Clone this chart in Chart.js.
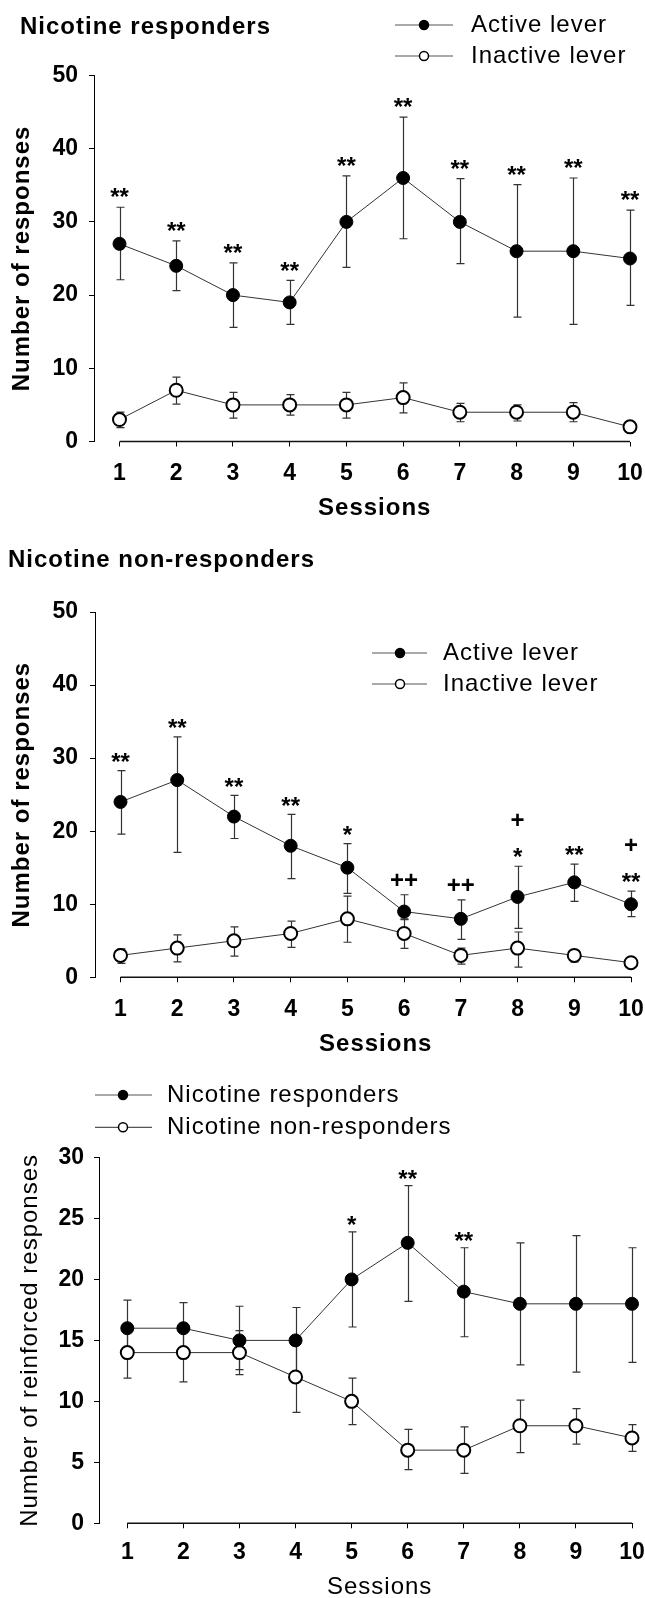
<!DOCTYPE html>
<html><head><meta charset="utf-8">
<script src="https://cdn.jsdelivr.net/npm/chart.js@4.4.1/dist/chart.umd.min.js"></script>
<style>
html,body{margin:0;padding:0;background:#fff;}
#wrap{position:relative;width:645px;height:1598px;overflow:hidden;background:#fff}
canvas{position:absolute;left:0}
</style></head><body>
<div id="wrap">
<canvas id="c1" width="645" height="530" style="top:0px"></canvas>
<canvas id="c2" width="645" height="530" style="top:530px"></canvas>
<canvas id="c3" width="645" height="538" style="top:1060px"></canvas>
</div>
<script>
// ---------- DATA ----------
const sessions = [1,2,3,4,5,6,7,8,9,10];

// Panel 1: Nicotine responders
const respActive     = [27, 24, 20, 19, 30, 36, 30, 26, 26, 25];
const respActiveHi   = [32, 27.4, 24.4, 22, 36.3, 44.3, 35.9, 35.1, 36, 31.6];
const respActiveLo   = [22.1, 20.6, 15.6, 16, 23.8, 27.7, 24.3, 17, 16, 18.6];
const respInactive   = [3, 7, 5, 5, 5, 6, 4, 4, 4, 2];
const respInactiveHi = [4, 8.8, 6.7, 6.4, 6.7, 8, 5.2, 5, 5.3, 2.3];
const respInactiveLo = [1.9, 5.1, 3.2, 3.6, 3.2, 3.9, 2.7, 2.8, 2.7, 1.7];
const respMarks      = ['**','**','**','**','**','**','**','**','**','**'];

// Panel 2: Nicotine non-responders
const nonActive     = [24, 27, 22, 18, 15, 9, 8, 11, 13, 10];
const nonActiveHi   = [28.3, 32.9, 24.9, 22.3, 18.3, 11.3, 10.6, 15.2, 15.5, 11.8];
const nonActiveLo   = [19.6, 17.1, 19, 13.5, 11.5, 8, 5.2, 6.7, 10.4, 8.3];
const nonInactive   = [3, 4, 5, 6, 8, 6, 3, 4, 3, 2];
const nonInactiveHi = [3.9, 5.8, 6.9, 7.7, 11.1, 7.9, 4.0, 6.2, 3.6, 2.3];
const nonInactiveLo = [1.9, 2.1, 2.9, 4.1, 4.8, 3.95, 1.8, 1.4, 2.1, 1.7];
const nonMarks      = [['**'],['**'],['**'],['**'],['*'],['++'],['++'],['+','*'],['**'],['+','**']];

// Panel 3: Number of reinforced responses
const reinfResp     = [16, 16, 15, 15, 20, 23, 19, 18, 18, 18];
const reinfRespHi   = [18.3, 18.1, 17.8, 17.7, 23.9, 27.7, 22.6, 23.0, 23.6, 22.6];
const reinfRespLo   = [13.7, 13.9, 12.6, 12.4, 16.1, 18.2, 15.3, 13.0, 12.4, 13.2];
const reinfNon      = [14, 14, 14, 12, 10, 6, 6, 8, 8, 7];
const reinfNonHi    = [16.1, 16.4, 15.8, 14.9, 11.9, 7.7, 7.9, 10.1, 9.4, 8.1];
const reinfNonLo    = [11.9, 11.6, 12.2, 9.1, 8.1, 4.4, 4.1, 5.8, 6.5, 5.9];
const reinfMarks    = ['','','','','*','**','**','','',''];

// ---------- PLUGINS ----------
const FONT = '"Liberation Sans", Arial, sans-serif';

const errorBars = {
  id: 'errorBars',
  beforeDatasetsDraw(chart) {
    const {ctx, scales: {x, y}} = chart;
    ctx.save();
    ctx.strokeStyle = '#333';
    ctx.lineWidth = 1.2;
    chart.data.datasets.forEach(ds => {
      if (!ds.errHi) return;
      ds.data.forEach((p, i) => {
        const px = Math.round(x.getPixelForValue(p.x)) + 0.5;
        const yh = y.getPixelForValue(ds.errHi[i]);
        const yl = y.getPixelForValue(ds.errLo[i]);
        ctx.beginPath();
        ctx.moveTo(px, yh); ctx.lineTo(px, yl);
        ctx.moveTo(px - 4, yh); ctx.lineTo(px + 4, yh);
        ctx.moveTo(px - 4, yl); ctx.lineTo(px + 4, yl);
        ctx.stroke();
      });
    });
    ctx.restore();
  }
};

const xAxisLine = {
  id: 'xAxisLine',
  beforeDatasetsDraw(chart) {
    const {ctx, scales: {x, y}} = chart;
    const y0 = y.getPixelForValue(0);
    ctx.save();
    ctx.strokeStyle = '#111';
    ctx.lineWidth = 1.5;
    ctx.beginPath();
    ctx.moveTo(x.getPixelForValue(sessions[0]), y0);
    ctx.lineTo(x.getPixelForValue(sessions[sessions.length - 1]), y0);
    ctx.stroke();
    ctx.restore();
  }
};

const sigMarks = {
  id: 'sigMarks',
  afterDatasetsDraw(chart, args, o) {
    if (!o || !o.marks) return;
    const ds = chart.data.datasets[o.datasetIndex || 0];
    const {ctx, scales: {x, y}} = chart;
    const fs = 24;
    ctx.save();
    ctx.fillStyle = '#000';
    ctx.font = 'bold ' + fs + 'px ' + FONT;
    ctx.textAlign = 'center';
    ctx.textBaseline = 'alphabetic';
    o.marks.forEach((m, i) => {
      const lines = Array.isArray(m) ? m : (m ? [m] : []);
      if (!lines.length) return;
      const px = x.getPixelForValue(ds.data[i].x);
      let cy = y.getPixelForValue(ds.errHi[i]) - o.gap;
      for (let k = lines.length - 1; k >= 0; k--) {
        const t = lines[k];
        const shift = t.indexOf('*') >= 0 ? 0.59 : 0.355;
        ctx.fillText(t, px, cy + shift * fs);
        cy -= o.lineGap;
      }
    });
    ctx.restore();
  }
};

function putText(ctx, txt, px, py, font, align, rot) {
  ctx.save();
  ctx.font = font;
  ctx.textAlign = align;
  ctx.textBaseline = 'middle';
  try { ctx.letterSpacing = '1px'; } catch (e) {}
  ctx.translate(px, py);
  if (rot) ctx.rotate(rot);
  ctx.fillText(txt, 0, 0);
  ctx.restore();
}

const panelText = {
  id: 'panelText',
  afterDraw(chart, args, o) {
    const {ctx, scales: {x}, chartArea} = chart;
    ctx.save();
    ctx.fillStyle = '#000';
    if (o.title) putText(ctx, o.title.text, o.title.x, o.title.y, o.title.font, 'left');
    if (o.xTitle) {
      const cx = (x.getPixelForValue(sessions[0]) + x.getPixelForValue(sessions[sessions.length - 1])) / 2;
      putText(ctx, o.xTitle.text, cx, o.xTitle.y, o.xTitle.font, 'center');
    }
    if (o.yTitle) {
      putText(ctx, o.yTitle.text, o.yTitle.x, (chartArea.top + chartArea.bottom) / 2, o.yTitle.font, 'center', -Math.PI / 2);
    }
    if (o.legend) {
      const L = o.legend;
      chart.data.datasets.forEach((ds, i) => {
        const ly = L.y + i * L.dy;
        ctx.strokeStyle = '#555';
        ctx.lineWidth = 1.2;
        ctx.beginPath();
        ctx.moveTo(L.x0, ly); ctx.lineTo(L.x1, ly);
        ctx.stroke();
        ctx.beginPath();
        ctx.arc(L.xm, ly, 4.5, 0, Math.PI * 2);
        ctx.fillStyle = ds.pointBackgroundColor;
        ctx.fill();
        ctx.strokeStyle = '#000';
        ctx.lineWidth = 1.5;
        ctx.stroke();
        ctx.fillStyle = '#000';
        putText(ctx, ds.label, L.xt, ly, L.font, 'left');
      });
    }
    ctx.restore();
  }
};

// ---------- CHART BUILDER ----------
function pts(vals) { return sessions.map((s, i) => ({x: s, y: vals[i]})); }

function series(label, vals, hi, lo, filled) {
  return {
    label: label,
    data: pts(vals),
    errHi: hi, errLo: lo,
    borderColor: '#333',
    borderWidth: 1,
    pointRadius: 6.5,
    pointHoverRadius: 6.5,
    pointBackgroundColor: filled ? '#000' : '#fff',
    pointBorderColor: '#000',
    pointBorderWidth: filled ? 1 : 2,
    tension: 0,
    clip: false
  };
}

function makeChart(id, H, datasets, c) {
  return new Chart(document.getElementById(id), {
    type: 'line',
    data: {datasets: datasets},
    options: {
      responsive: false,
      animation: false,
      devicePixelRatio: 1,
      events: [],
      layout: {padding: {left: 0, top: c.top, right: 645 - c.right, bottom: H - c.bottom - c.xH}},
      plugins: {
        legend: {display: false},
        tooltip: {enabled: false},
        sigMarks: {marks: c.marks, datasetIndex: 0, gap: c.gap, lineGap: 32},
        panelText: c.text
      },
      scales: {
        x: {
          type: 'linear', min: c.xmin, max: sessions[sessions.length - 1],
          afterBuildTicks: s => { s.ticks = sessions.map(v => ({value: v})); },
          afterFit: s => { s.height = c.xH; s.paddingLeft = 0; s.paddingRight = 0; },
          border: {display: false},
          grid: {drawOnChartArea: false, drawTicks: true, tickLength: 5, color: '#000', lineWidth: 1},
          ticks: {font: {family: FONT, weight: 'bold', size: 23}, color: '#000', padding: c.xPad, maxRotation: 0, autoSkip: false}
        },
        y: {
          min: 0, max: c.ymax,
          afterFit: s => { s.width = c.left; },
          border: {display: true, color: '#000', width: 1},
          grid: {drawOnChartArea: false, drawTicks: true, tickLength: 5, color: '#000'},
          ticks: {stepSize: c.ystep, font: {family: FONT, weight: 'bold', size: 23}, color: '#000', padding: c.yPad}
        }
      }
    },
    plugins: [errorBars, xAxisLine, sigMarks, panelText]
  });
}

const boldT = 'bold 24px ' + FONT;
const regT = '24px ' + FONT;

makeChart('c1', 530, [
  series('Active lever', respActive, respActiveHi, respActiveLo, true),
  series('Inactive lever', respInactive, respInactiveHi, respInactiveLo, false)
], {
  top: 75.5, bottom: 441.5, left: 94, right: 630, xH: 60, xPad: 13, yPad: 11,
  xmin: 0.5504, ymax: 50, ystep: 10, marks: respMarks, gap: 16,
  text: {
    title: {text: 'Nicotine responders', x: 20, y: 27, font: boldT},
    xTitle: {text: 'Sessions', y: 508, font: boldT},
    yTitle: {text: 'Number of responses', x: 22, font: boldT},
    legend: {y: 25, dy: 31, x0: 395, x1: 453, xm: 424, xt: 471, font: regT}
  }
});

makeChart('c2', 530, [
  series('Active lever', nonActive, nonActiveHi, nonActiveLo, true),
  series('Inactive lever', nonInactive, nonInactiveHi, nonInactiveLo, false)
], {
  top: 82, bottom: 447.3, left: 95, right: 631, xH: 60, xPad: 14, yPad: 12,
  xmin: 0.5504, ymax: 50, ystep: 10, marks: nonMarks, gap: 15,
  text: {
    title: {text: 'Nicotine non-responders', x: 8, y: 30, font: boldT},
    xTitle: {text: 'Sessions', y: 514, font: boldT},
    yTitle: {text: 'Number of responses', x: 22, font: boldT},
    legend: {y: 123, dy: 31, x0: 372, x1: 427, xm: 400, xt: 443, font: regT}
  }
});

makeChart('c3', 538, [
  series('Nicotine responders', reinfResp, reinfRespHi, reinfRespLo, true),
  series('Nicotine non-responders', reinfNon, reinfNonHi, reinfNonLo, false)
], {
  top: 97.5, bottom: 463.3, left: 99, right: 632, xH: 60, xPad: 11, yPad: 10,
  xmin: 0.4954, ymax: 30, ystep: 5, marks: reinfMarks, gap: 13,
  text: {
    xTitle: {text: 'Sessions', y: 527, font: regT},
    yTitle: {text: 'Number of reinforced responses', x: 30, font: regT},
    legend: {y: 35, dy: 32.3, x0: 95, x1: 152, xm: 123, xt: 167, font: regT}
  }
});
</script>
</body></html>
